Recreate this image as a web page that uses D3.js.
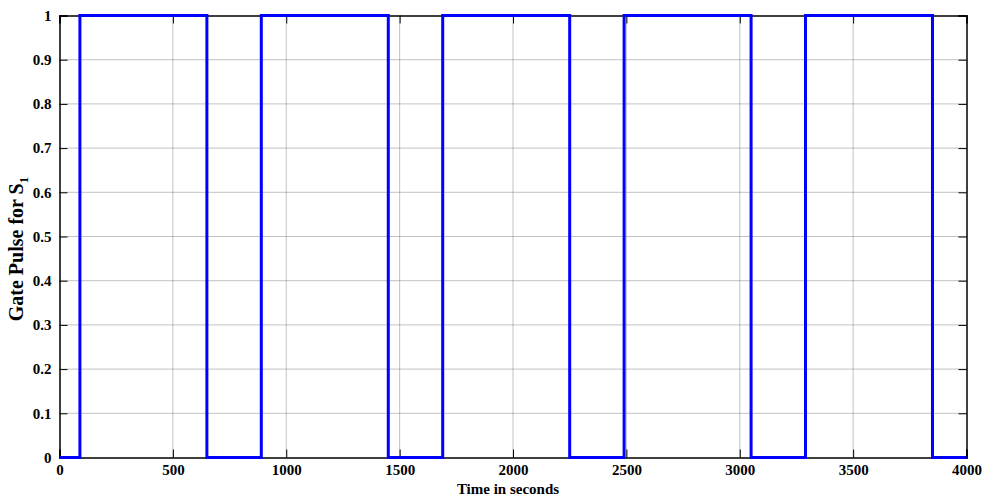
<!DOCTYPE html>
<html><head><meta charset="utf-8">
<script src="https://cdn.jsdelivr.net/npm/d3@7"></script>
<style>body{margin:0;background:#fff}svg{display:block}</style>
</head><body>
<script>
const times = [0, 90, 650, 890, 1450, 1690, 2250, 2490, 3050, 3290, 3850, 4000];
const pulse = [0, 1, 0, 1, 0, 1, 0, 1, 0, 1, 0, 0];
const xTicks = [0, 500, 1000, 1500, 2000, 2500, 3000, 3500, 4000];
const yTicks = [0, 0.1, 0.2, 0.3, 0.4, 0.5, 0.6, 0.7, 0.8, 0.9, 1];

const W = 984, H = 501;
const m = {left: 59.5, top: 15.5, right: 984 - 966.5, bottom: 501 - 457.5};
const svg = d3.select("body").append("svg").attr("width", W).attr("height", H);
const x = d3.scaleLinear().domain([0, 4000]).range([m.left, W - m.right]);
const y = d3.scaleLinear().domain([0, 1]).range([H - m.bottom, m.top]);
const font = "'Liberation Serif','Times New Roman',serif";

// grid
const g = svg.append("g");
g.selectAll(".gx").data(xTicks.slice(1, -1)).join("line")
  .attr("x1", d => x(d)).attr("x2", d => x(d)).attr("y1", y(0)).attr("y2", y(1))
  .attr("stroke", "#666").attr("stroke-width", 0.8).attr("stroke-dasharray", "1,1");
g.selectAll(".gy").data(yTicks.slice(1, -1)).join("line")
  .attr("x1", x(0)).attr("x2", x(4000)).attr("y1", d => y(d)).attr("y2", d => y(d))
  .attr("stroke", "#666").attr("stroke-width", 0.8).attr("stroke-dasharray", "1,1");

// axes with inward ticks
const tl = 8;
const xb = d3.axisBottom(x).tickValues(xTicks).tickSize(-tl).tickPadding(7).tickFormat(d3.format("d"));
const yl = d3.axisLeft(y).tickValues(yTicks).tickSize(-tl).tickPadding(8).tickFormat(d => d === 0 || d === 1 ? String(d) : d3.format(".1f")(d));
const xt = d3.axisTop(x).tickValues(xTicks).tickSize(-tl).tickFormat("");
const yr = d3.axisRight(y).tickValues(yTicks).tickSize(-tl).tickFormat("");
function style(sel) {
  sel.selectAll("path").attr("stroke", "#000").attr("stroke-width", 1.5);
  sel.selectAll("line").attr("stroke", "#000").attr("stroke-width", 1);
  sel.selectAll("text").attr("font-family", font).attr("font-weight", "bold").attr("font-size", 15).attr("fill", "#000");
}
svg.append("g").attr("transform", `translate(0,${y(0)})`).call(xb).call(style);
svg.append("g").attr("transform", `translate(${x(0)},0)`).call(yl).call(style);
svg.append("g").attr("transform", `translate(0,${y(1)})`).call(xt).call(style);
svg.append("g").attr("transform", `translate(${x(4000)},0)`).call(yr).call(style);

// pulse line
const pts = times.map((t, i) => [t, pulse[i]]);
svg.append("path").datum(pts)
  .attr("d", d3.line().x(d => x(d[0])).y(d => y(d[1])).curve(d3.curveStepAfter))
  .attr("fill", "none").attr("stroke", "#0000ff").attr("stroke-width", 3);

// labels
svg.append("text").attr("x", 508).attr("y", 494).attr("text-anchor", "middle")
  .attr("font-family", font).attr("font-weight", "bold").attr("font-size", 15).text("Time in seconds");
const yt = svg.append("text").attr("transform", `translate(23,${249}) rotate(-90)`)
  .attr("text-anchor", "middle").attr("font-family", font).attr("font-weight", "bold").attr("font-size", 20);
yt.append("tspan").text("Gate Pulse for S");
yt.append("tspan").attr("dy", 5).attr("font-size", 13).text("1");
</script>
</body></html>
